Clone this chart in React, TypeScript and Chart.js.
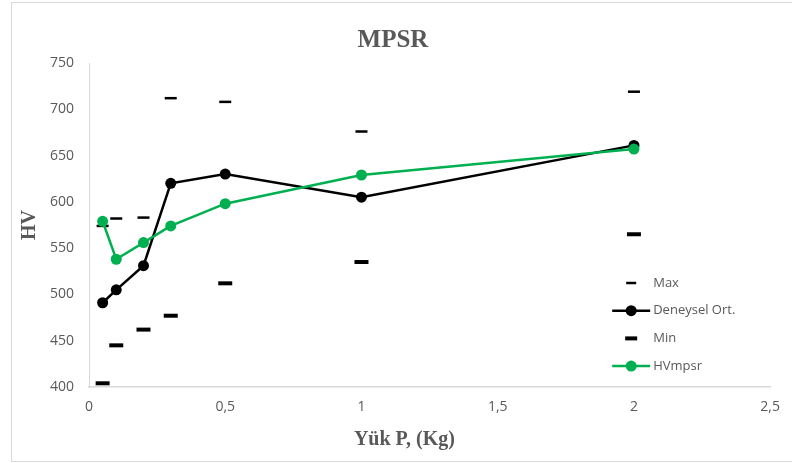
import React, { useEffect, useRef } from "react";
import { Chart, registerables } from "chart.js";

Chart.register(...registerables);

// ---- Data ----
const loads = [0.05, 0.1, 0.2, 0.3, 0.5, 1, 2];
const maxValues = [574, 582, 583, 712, 708, 676, 719];
const avgValues = [491, 505, 531, 620, 630, 605, 661];
const minValues = [404, 445, 462, 477, 512, 535, 565];
const hvMpsrValues = [579, 538, 556, 574, 598, 629, 657];

const xTickValues = [0, 0.5, 1, 1.5, 2, 2.5];
const xTickLabels = ["0", "0,5", "1", "1,5", "2", "2,5"];
const yMin = 400;
const yMax = 750;
const yStep = 50;

const seriesLabels = ["Max", "Deneysel Ort.", "Min", "HVmpsr"];
const chartTitle = "MPSR";
const xTitle = "Yük P, (Kg)";
const yTitle = "HV";

const GRAY_TEXT = "#595959";
const AXIS_GRAY = "#d9d9d9";
const GREEN = "#00B050";

const toPoints = (vals: number[]) => loads.map((x, i) => ({ x, y: vals[i] }));

const frameAndLegendPlugin = {
  id: "frameAndLegend",
  beforeDraw(chart: any) {
    const { ctx, width, height } = chart;
    ctx.save();
    ctx.fillStyle = "#ffffff";
    ctx.fillRect(0, 0, width, height);
    ctx.strokeStyle = AXIS_GRAY;
    ctx.lineWidth = 1;
    ctx.strokeRect(11.5, 2.5, width + 20, height - 4);
    ctx.restore();
  },
  afterDraw(chart: any) {
    const { ctx, chartArea } = chart;
    ctx.save();
    // x-axis title
    ctx.font = "bold 20px 'Liberation Serif', 'Times New Roman', serif";
    ctx.fillStyle = GRAY_TEXT;
    ctx.textAlign = "center";
    ctx.textBaseline = "middle";
    ctx.fillText(xTitle, chartArea.left + (chartArea.right - chartArea.left) * 0.463, 440);

    // legend
    const cx = chartArea.right - 139;
    const y0 = chartArea.bottom - 104;
    const step = 27.7;
    const legendOrder = [0, 1, 2, 3];
    legendOrder.forEach((dsIndex, i) => {
      const ds = chart.data.datasets[dsIndex];
      const y = y0 + i * step;
      if (ds.showLine) {
        ctx.strokeStyle = ds.borderColor;
        ctx.lineWidth = ds.borderWidth;
        ctx.beginPath();
        ctx.moveTo(cx - 19, y);
        ctx.lineTo(cx + 19, y);
        ctx.stroke();
        ctx.fillStyle = ds.pointBackgroundColor;
        ctx.beginPath();
        ctx.arc(cx, y, ds.pointRadius, 0, Math.PI * 2);
        ctx.fill();
      } else {
        ctx.strokeStyle = ds.pointBorderColor;
        ctx.lineWidth = ds.pointBorderWidth;
        ctx.beginPath();
        ctx.moveTo(cx - ds.pointRadius + 1, y);
        ctx.lineTo(cx + ds.pointRadius - 1, y);
        ctx.stroke();
      }
      ctx.font = "13px 'Open Sans', sans-serif";
      ctx.fillStyle = GRAY_TEXT;
      ctx.textAlign = "left";
      ctx.textBaseline = "middle";
      ctx.fillText(ds.label, cx + 22, y);
    });
    ctx.restore();
  },
};

export default function App() {
  const canvasRef = useRef<HTMLCanvasElement | null>(null);

  useEffect(() => {
    document.body.style.margin = "0";
    const canvas = canvasRef.current;
    if (!canvas) return;

    const chart = new Chart(canvas, {
      type: "scatter",
      data: {
        datasets: [
          {
            label: seriesLabels[0],
            data: toPoints(maxValues),
            showLine: false,
            pointStyle: "line",
            pointRadius: 6,
            pointHoverRadius: 6,
            pointBorderWidth: 2.5,
            pointBorderColor: "#000000",
            borderColor: "#000000",
            backgroundColor: "#000000",
            order: 3,
            clip: false,
          },
          {
            label: seriesLabels[1],
            data: toPoints(avgValues),
            showLine: true,
            borderColor: "#000000",
            borderWidth: 2.5,
            pointStyle: "circle",
            pointRadius: 5.5,
            pointHoverRadius: 5.5,
            pointBackgroundColor: "#000000",
            pointBorderColor: "#000000",
            pointBorderWidth: 0,
            order: 2,
            clip: false,
          },
          {
            label: seriesLabels[2],
            data: toPoints(minValues),
            showLine: false,
            pointStyle: "line",
            pointRadius: 7,
            pointHoverRadius: 7,
            pointBorderWidth: 4,
            pointBorderColor: "#000000",
            borderColor: "#000000",
            backgroundColor: "#000000",
            order: 1,
            clip: false,
          },
          {
            label: seriesLabels[3],
            data: toPoints(hvMpsrValues),
            showLine: true,
            borderColor: GREEN,
            borderWidth: 2.5,
            pointStyle: "circle",
            pointRadius: 5.5,
            pointHoverRadius: 5.5,
            pointBackgroundColor: GREEN,
            pointBorderColor: GREEN,
            pointBorderWidth: 0,
            order: 0,
            clip: false,
          },
        ],
      },
      options: {
        responsive: false,
        animation: false,
        layout: { padding: { left: 14, right: 20, top: 0, bottom: 0 } },
        plugins: {
          legend: { display: false },
          tooltip: { enabled: false },
          title: {
            display: true,
            text: chartTitle,
            color: GRAY_TEXT,
            font: { family: "'Liberation Serif', 'Times New Roman', serif", size: 25, weight: "bold", lineHeight: 1.2 },
            padding: { top: 26, bottom: 7 },
          },
        },
        scales: {
          x: {
            type: "linear",
            min: xTickValues[0],
            max: xTickValues[xTickValues.length - 1],
            afterBuildTicks: (axis: any) => {
              axis.ticks = xTickValues.map((v) => ({ value: v }));
            },
            afterFit: (scale: any) => {
              scale.height = 76;
            },
            grid: { display: false, drawTicks: false },
            border: { display: true, color: AXIS_GRAY, width: 1.5 },
            ticks: {
              padding: 12,
              color: GRAY_TEXT,
              font: { family: "'Open Sans', sans-serif", size: 14 },
              maxRotation: 0,
              autoSkip: false,
              callback: (value: any) => {
                const idx = xTickValues.indexOf(Number(value));
                return idx >= 0 ? xTickLabels[idx] : "";
              },
            },
            title: { display: false },
          },
          y: {
            type: "linear",
            min: yMin,
            max: yMax,
            afterFit: (scale: any) => {
              scale.width = 75;
            },
            grid: { display: false, drawTicks: false },
            border: { display: true, color: AXIS_GRAY, width: 1 },
            ticks: {
              stepSize: yStep,
              padding: 15,
              color: GRAY_TEXT,
              font: { family: "'Open Sans', sans-serif", size: 14 },
            },
            title: {
              display: true,
              text: yTitle,
              color: GRAY_TEXT,
              font: { family: "'Liberation Serif', 'Times New Roman', serif", size: 20, weight: "bold", lineHeight: 1.2 },
              padding: { top: 4, bottom: 4 },
            },
          },
        },
      },
      plugins: [frameAndLegendPlugin],
    });

    return () => {
      chart.destroy();
    };
  }, []);

  return (
    <div style={{ width: 792, height: 463 }}>
      <canvas ref={canvasRef} width={792} height={463} style={{ display: "block" }} />
    </div>
  );
}
